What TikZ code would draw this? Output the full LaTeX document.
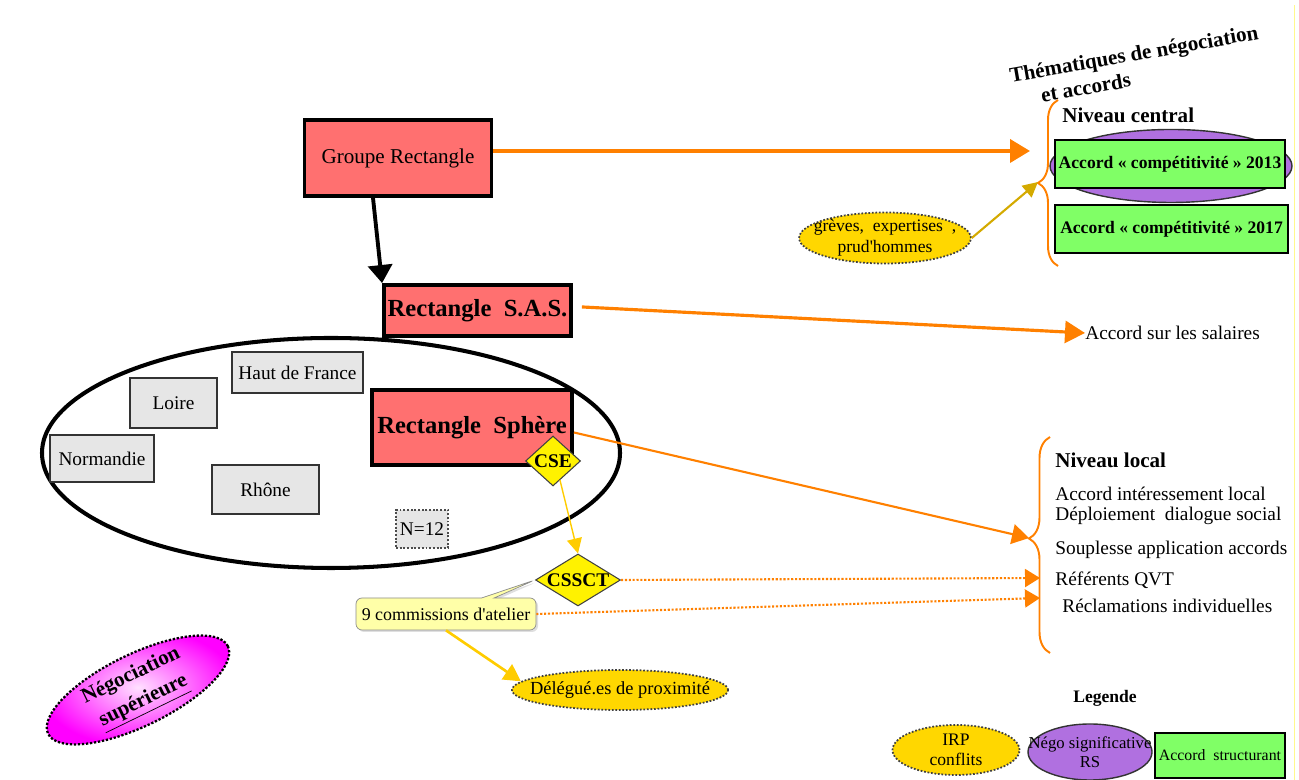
\documentclass[tikz,border=0pt]{standalone}
\usepackage{fontspec}
\setmainfont{Liberation Serif}
\usepackage{tikz}
\usetikzlibrary{shapes.geometric,shapes.callouts,arrows.meta,decorations.pathreplacing,shadows}

\definecolor{salmon}{HTML}{FF7070}
\definecolor{boxgrey}{HTML}{E6E6E6}
\definecolor{linkorange}{HTML}{FF8000}
\definecolor{gold}{HTML}{FFD700}
\definecolor{linkgold}{HTML}{FFCC00}
\definecolor{darkgold}{HTML}{D4AA00}
\definecolor{lightyellow}{HTML}{FFFFA8}
\definecolor{negopurple}{HTML}{B070E0}
\definecolor{accordgreen}{HTML}{80FF66}

\begin{document}
\begin{tikzpicture}[
	company/.style={rectangle, draw=black, line width=2.2pt, fill=salmon, inner sep=0pt},
	region/.style={rectangle, draw=black!80, line width=1.1pt, fill=boxgrey, inner sep=0pt, font=\fontsize{11}{13}\selectfont},
	instance/.style={diamond, draw=black!75, line width=0.6pt, fill=yellow, inner sep=-1.5pt, font=\bfseries\fontsize{11}{13}\selectfont},
	irp/.style={ellipse, draw=black!75, densely dotted, line width=1pt, fill=gold, inner sep=0pt},
	nego/.style={ellipse, draw=black!80, line width=0.8pt, fill=negopurple, inner sep=0pt},
	accord/.style={rectangle, draw=black, line width=1.5pt, fill=accordgreen, inner sep=0pt, font=\bfseries\fontsize{10}{12}\selectfont},
	level/.style={anchor=west, inner sep=0pt, font=\bfseries\fontsize{12}{14}\selectfont},
	theme/.style={anchor=west, inner sep=0pt, font=\fontsize{11}{13}\selectfont},
	level brace/.style={draw=linkorange, line width=1.1pt, decorate, decoration={brace, amplitude=0.4cm, #1}}
]
\useasboundingbox (0,0) rectangle (25.98,15.6);
\draw[yellow!45, line width=0.5pt] (25.88,0) -- (25.88,15.5);

\node[company, minimum width=3.74cm, minimum height=1.52cm, font=\fontsize{12}{14}\selectfont] (groupe) at (7.96,12.44) {Groupe Rectangle};
\node[company, minimum width=3.74cm, minimum height=1.02cm, font=\bfseries\fontsize{14}{16}\selectfont] (sas) at (9.55,9.39) {Rectangle\ \ S.A.S.};
\draw[line width=2.2pt, -{Triangle[length=0.36cm,width=0.48cm]}] ([xshift=-0.5cm]groupe.south) -- (sas.north west);

\draw[line width=2.3pt] (6.62,6.54) ellipse (5.78 and 2.30);
\node[region, minimum width=2.62cm, minimum height=0.82cm] (haut de france) at (5.95,8.15) {Haut de France};
\node[region, minimum width=1.74cm, minimum height=1.0cm] (loire) at (3.47,7.54) {Loire};
\node[region, minimum width=2.08cm, minimum height=0.94cm] (normandie) at (2.04,6.43) {Normandie};
\node[region, minimum width=2.14cm, minimum height=0.98cm] (rhone) at (5.31,5.81) {Rhône};
\node[region, draw=black!70, densely dotted, minimum width=1.04cm, minimum height=0.76cm] (effectif) at (8.44,5.02) {N=12};
\node[company, minimum width=4.0cm, minimum height=1.5cm, font=\bfseries\fontsize{14}{16}\selectfont] (sphere) at (9.44,7.05) {Rectangle\ \ Sphère};
\node[instance, shape aspect=1.1, minimum width=1.1cm, minimum height=1.0cm] (cse) at (11.06,6.38) {CSE};

\node[instance, shape aspect=1.65, minimum width=1.7cm, minimum height=1.04cm] (cssct) at (11.56,4.0) {CSSCT};
\draw[linkgold, line width=0.8pt, -{Triangle[length=0.3cm,width=0.3cm]}] (cse.-70) -- (cssct.north);
\node[rectangle callout, callout absolute pointer={(cssct.west)}, rounded corners=0.12cm, draw=black!45, fill=lightyellow,
	drop shadow={opacity=0.25, shadow xshift=0.04cm, shadow yshift=-0.04cm},
	minimum width=3.6cm, minimum height=0.64cm, inner sep=0pt, font=\fontsize{10.2}{12}\selectfont] (commissions) at (8.92,3.32) {9 commissions d\textquotesingle atelier};
\node[irp, inner xsep=-0.27cm, minimum width=4.32cm, minimum height=0.8cm, font=\fontsize{10.5}{12}\selectfont] (delegues) at (12.4,1.8) {Délégué.es de proximité};
\draw[linkgold, line width=1.5pt, -{Triangle[length=0.34cm,width=0.36cm]}] (commissions.south) -- (delegues.175);

\node[rotate=26, ellipse, minimum width=4cm, minimum height=1.28cm, inner sep=0pt, draw=black, densely dotted, line width=1.3pt,
	inner color=magenta!12, outer color=magenta, align=center, font=\bfseries\fontsize{12}{16}\selectfont] (superieure) at (2.76,1.8) {Négociation\\\underline{supérieure}};

%% thematiques
\node[rotate=10, align=left, font=\bfseries\fontsize{12}{14}\selectfont] (titre) at (22.72,14.28) {Thématiques de négociation\\\hspace*{1.3em}et accords};
\draw[level brace={aspect=0.5}] (21.16,10.28) -- (21.16,13.6);
\coordinate (central tip) at (20.76,11.96);
\coordinate (central in) at (20.6,12.58);
\node[level] (niveau central) at (21.24,13.3) {Niveau central};
\node[nego, minimum width=4.84cm, minimum height=1.46cm] (central nego) at (23.42,12.28) {};
\node[accord, minimum width=4.6cm, minimum height=0.96cm] (accord 2013) at (23.4,12.32) {Accord « compétitivité » 2013};
\node[accord, minimum width=4.66cm, minimum height=0.96cm] (accord 2017) at (23.43,11.02) {Accord « compétitivité » 2017};
\node[irp, inner xsep=-0.21cm, inner ysep=-0.06cm, minimum width=3.28cm, minimum height=1.02cm, align=center, font=\fontsize{10}{12}\selectfont] (greves) at (17.7,10.84) {grèves,\ \ expertises\ \ ,\\prud\textquotesingle hommes};

\node[theme] (salaires) at (21.7,8.94) {Accord sur les salaires};

\draw[level brace={aspect=0.53, amplitude=0.42cm}] (21.0,2.54) -- (21.0,6.86);
\coordinate (local tip) at (20.58,4.84);
\coordinate (qvt in) at (20.8,4.04);
\coordinate (recl in) at (20.8,3.64);
\node[level] (niveau local) at (21.1,6.4) {Niveau local};
\node[theme] (interessement) at (21.1,5.72) {Accord intéressement local};
\node[theme] (deploiement) at (21.1,5.28) {Déploiement\ \ dialogue social};
\node[theme] (souplesse) at (21.1,4.6) {Souplesse application accords};
\node[theme] (qvt) at (21.1,4.0) {Référents QVT};
\node[theme] (reclamations) at (21.24,3.48) {Réclamations individuelles};

\draw[linkorange, line width=2.2pt, -{Triangle[length=0.4cm,width=0.46cm]}] ([yshift=0.14cm]groupe.east) -- (central in);
\draw[darkgold, line width=1.2pt, -{Triangle[length=0.3cm,width=0.3cm]}] (greves.east) -- (central tip);
\draw[linkorange, line width=1.8pt, -{Triangle[length=0.4cm,width=0.44cm]}, shorten <=0.18cm] ([yshift=0.08cm]sas.east) -- (salaires.west);
\draw[linkorange, line width=1.2pt, -{Triangle[length=0.34cm,width=0.4cm]}] ([yshift=-0.1cm]sphere.east) -- (local tip);
\draw[linkorange, densely dotted, line width=1.2pt, -{Triangle[length=0.3cm,width=0.36cm]}] (cssct.east) -- (qvt in);
\draw[linkorange, densely dotted, line width=1.2pt, -{Triangle[length=0.3cm,width=0.36cm]}] (commissions.east) -- (recl in);

%% legende
\node[font=\bfseries\fontsize{10}{12}\selectfont] (legende) at (22.1,1.64) {Legende};
\node[irp, minimum width=2.54cm, minimum height=1.0cm, align=center, font=\fontsize{10}{11}\selectfont] (legende irp) at (19.12,0.6) {IRP\\conflits};
\node[nego, inner xsep=-0.4cm, minimum width=2.48cm, minimum height=1.12cm, align=center, font=\fontsize{9.5}{11}\selectfont] (legende nego) at (21.8,0.56) {Négo significative\\RS};
\node[accord, minimum width=2.6cm, minimum height=0.9cm, font=\fontsize{9}{11}\selectfont] (legende accord) at (24.4,0.49) {Accord\ \ structurant};
\end{tikzpicture}
\end{document}
